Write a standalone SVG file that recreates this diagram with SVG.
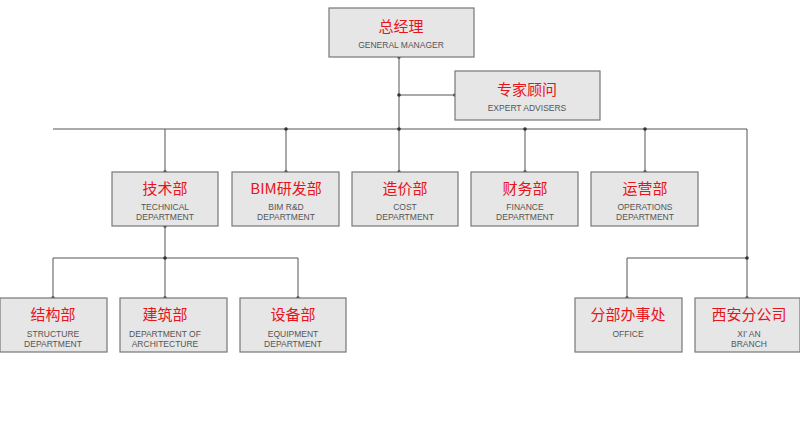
<svg xmlns="http://www.w3.org/2000/svg" width="800" height="436" viewBox="0 0 800 436">
<style>
.b{fill:#e6e6e6;stroke:#777;stroke-width:1.2}
.c{font-family:"Noto Sans CJK SC",sans-serif;font-size:15px;fill:#e8141b;text-anchor:middle}
.e{font-family:"Liberation Sans",sans-serif;font-size:8.5px;fill:#555;text-anchor:middle}
.l{stroke:#555;stroke-width:1;fill:none}
.d{fill:#333}
</style>
<rect width="800" height="436" fill="#fff"/>
<g id="connectors">
<path class="l" d="M399 57V129M399 95H455M53 129H747M165 129V172M286 129V172M399 129V172M525 129V172M645 129V172M747 129V298M165 226V258M53 258H298M53 258V298M165 258V298M298 258V298M627 258H747M627 258V298"/>
<g class="d"><circle cx="399" cy="57" r="1.8"/><circle cx="399" cy="95" r="1.8"/><circle cx="455" cy="95" r="1.8"/><circle cx="399" cy="129" r="1.8"/><circle cx="286" cy="129" r="1.8"/><circle cx="525" cy="129" r="1.8"/><circle cx="645" cy="129" r="1.8"/><circle cx="165" cy="172" r="1.8"/><circle cx="286" cy="172" r="1.8"/><circle cx="399" cy="172" r="1.8"/><circle cx="525" cy="172" r="1.8"/><circle cx="645" cy="172" r="1.8"/><circle cx="165" cy="226" r="1.8"/><circle cx="165" cy="258" r="1.8"/><circle cx="53" cy="298" r="1.8"/><circle cx="165" cy="298" r="1.8"/><circle cx="298" cy="298" r="1.8"/><circle cx="747" cy="258" r="1.8"/><circle cx="627" cy="298" r="1.8"/><circle cx="747" cy="298" r="1.8"/></g>
</g>
<g id="gm"><rect class="b" x="329" y="8" width="145" height="49"/><text class="c" x="401" y="32">总经理</text><text class="e" x="401" y="48">GENERAL MANAGER</text></g>
<g id="expert"><rect class="b" x="455" y="71" width="145" height="49"/><text class="c" x="527" y="95">专家顾问</text><text class="e" x="527" y="111">EXPERT ADVISERS</text></g>
<g id="tech"><rect class="b" x="112" y="172" width="106" height="54"/><text class="c" x="165" y="194">技术部</text><text class="e" x="165" y="210">TECHNICAL</text><text class="e" x="165" y="220">DEPARTMENT</text></g>
<g id="bim"><rect class="b" x="232" y="172" width="107" height="54"/><text class="c" x="286" y="194">BIM研发部</text><text class="e" x="286" y="210">BIM R&amp;D</text><text class="e" x="286" y="220">DEPARTMENT</text></g>
<g id="cost"><rect class="b" x="352" y="172" width="106" height="54"/><text class="c" x="405" y="194">造价部</text><text class="e" x="405" y="210">COST</text><text class="e" x="405" y="220">DEPARTMENT</text></g>
<g id="finance"><rect class="b" x="471" y="172" width="107" height="54"/><text class="c" x="525" y="194">财务部</text><text class="e" x="525" y="210">FINANCE</text><text class="e" x="525" y="220">DEPARTMENT</text></g>
<g id="ops"><rect class="b" x="591" y="172" width="107" height="54"/><text class="c" x="645" y="194">运营部</text><text class="e" x="645" y="210">OPERATIONS</text><text class="e" x="645" y="220">DEPARTMENT</text></g>
<g id="struct"><rect class="b" x="0" y="298" width="107" height="54"/><text class="c" x="53" y="320">结构部</text><text class="e" x="53" y="337">STRUCTURE</text><text class="e" x="53" y="347">DEPARTMENT</text></g>
<g id="arch"><rect class="b" x="120" y="298" width="107" height="54"/><text class="c" x="165" y="320">建筑部</text><text class="e" x="165" y="337">DEPARTMENT OF</text><text class="e" x="165" y="347">ARCHITECTURE</text></g>
<g id="equip"><rect class="b" x="240" y="298" width="106" height="54"/><text class="c" x="293" y="320">设备部</text><text class="e" x="293" y="337">EQUIPMENT</text><text class="e" x="293" y="347">DEPARTMENT</text></g>
<g id="office"><rect class="b" x="575" y="298" width="107" height="54"/><text class="c" x="628" y="320">分部办事处</text><text class="e" x="628" y="337">OFFICE</text></g>
<g id="xian"><rect class="b" x="695" y="298" width="105" height="54"/><text class="c" x="749" y="320">西安分公司</text><text class="e" x="749" y="337">XI’ AN</text><text class="e" x="749" y="347">BRANCH</text></g>
</svg>
